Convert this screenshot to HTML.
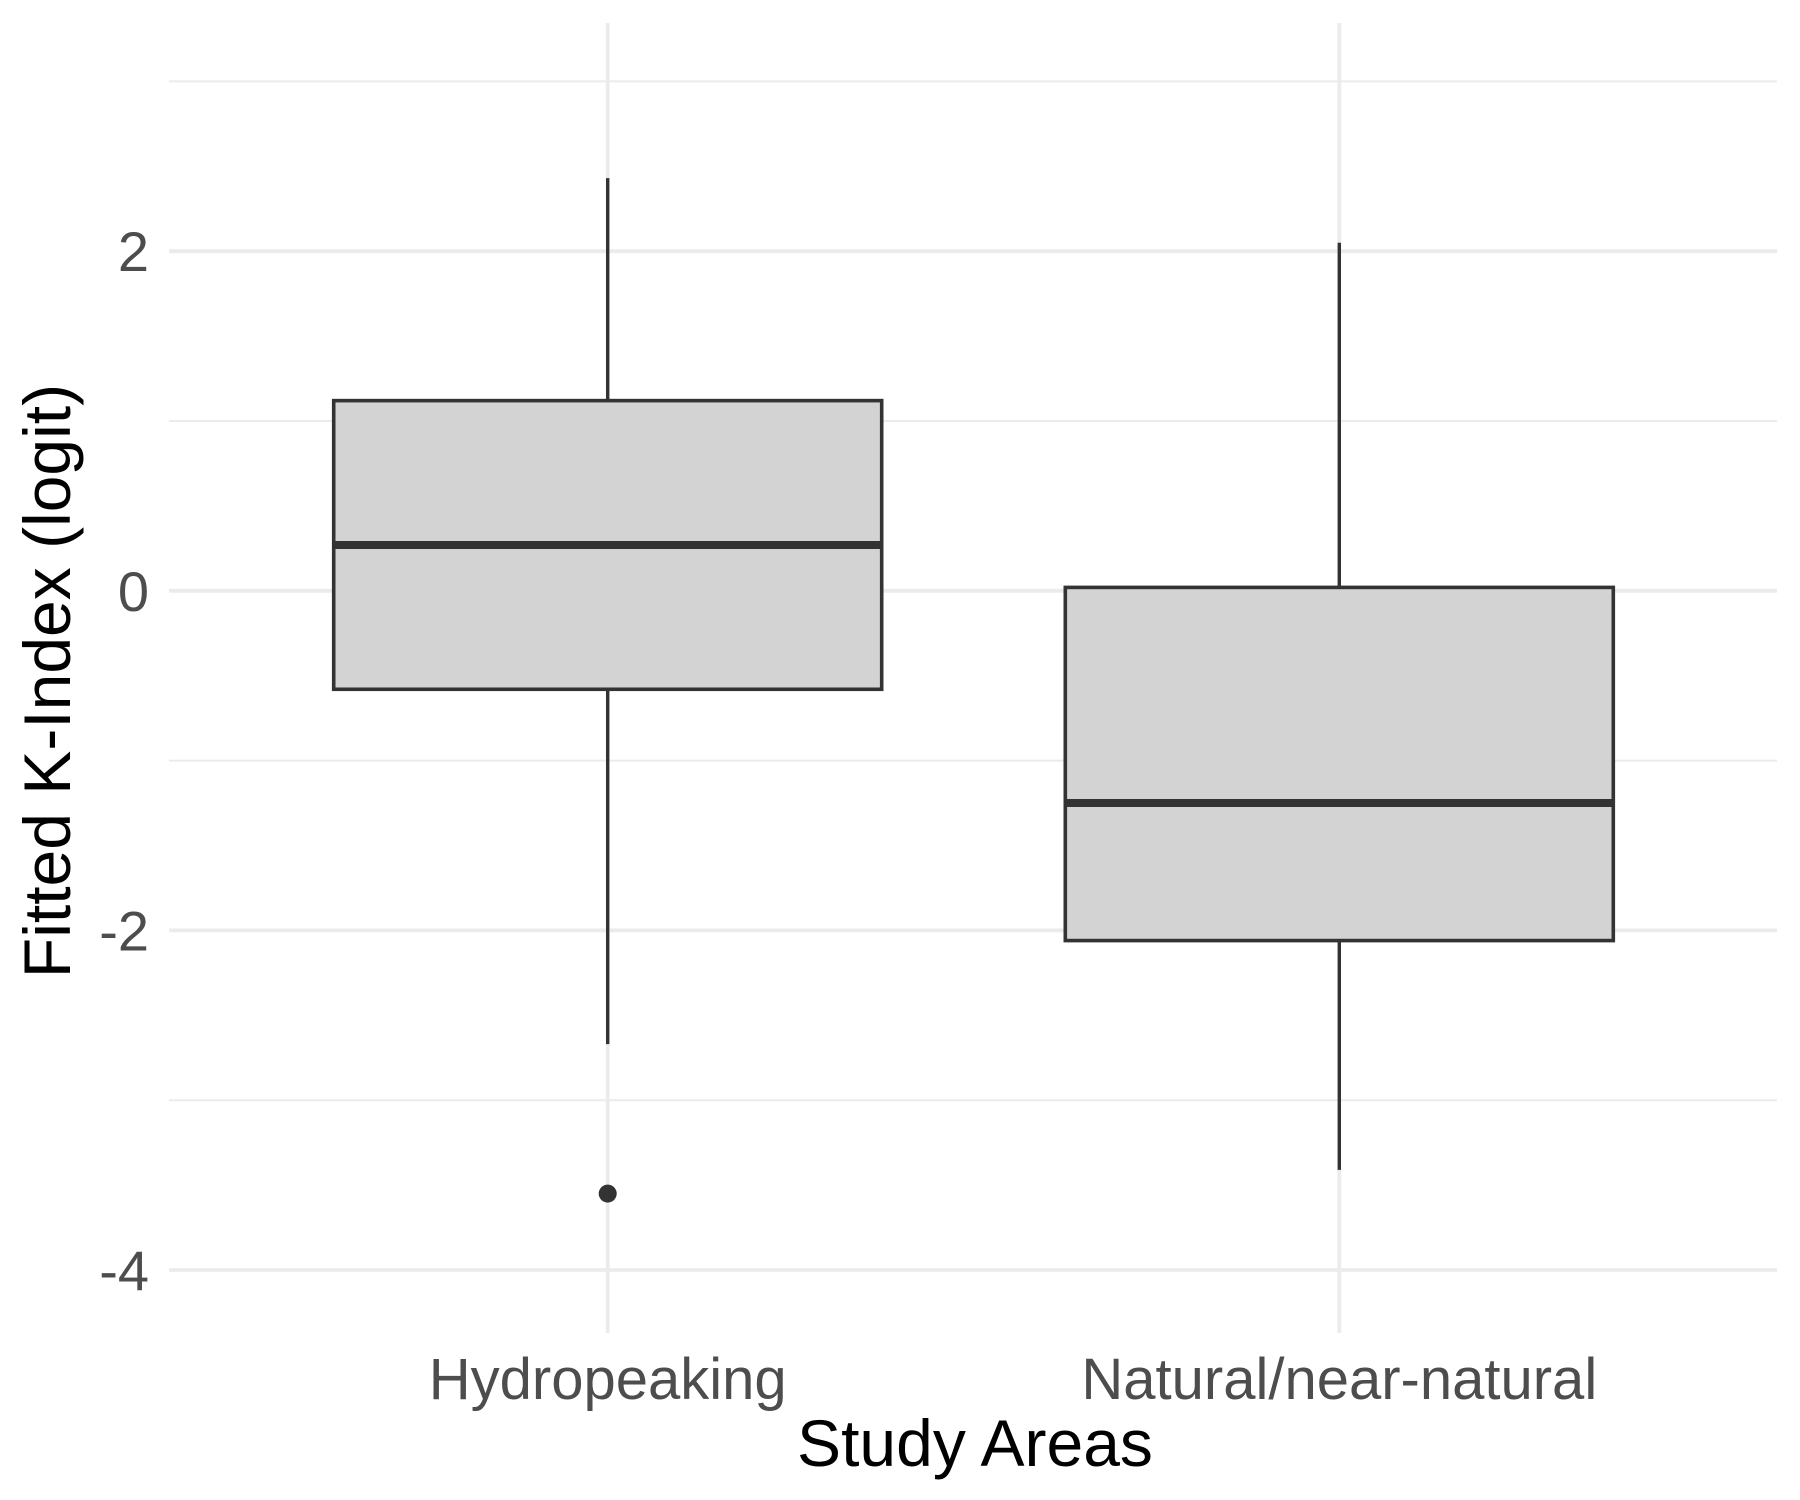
<!DOCTYPE html>
<html><head><meta charset="utf-8"><style>body{margin:0;background:#fff}svg{display:block}</style></head>
<body>
<svg id="chart" width="1800" height="1500" xmlns="http://www.w3.org/2000/svg" font-family="Liberation Sans, sans-serif">
<g id="grid"></g>
<g id="boxes"></g>
<g id="axes"></g>
<text x="975" y="1466" font-size="66" text-anchor="middle" fill="#000">Study Areas</text>
<text transform="translate(70,681) rotate(-90)" font-size="66" text-anchor="middle" fill="#000">Fitted K-Index (logit)</text>
</svg>
<script>
const categories = ["Hydropeaking", "Natural/near-natural"];
const whiskerLow = [-2.67, -3.41];
const q1 = [-0.58, -2.06];
const median = [0.27, -1.25];
const q3 = [1.12, 0.02];
const whiskerHigh = [2.43, 2.05];
const outliers = [[-3.55], []];
const yTicks = [-4, -2, 0, 2];
const yMinor = [-3, -1, 1, 3];

const NS = "http://www.w3.org/2000/svg";
const yScale = v => 590.8 - v * 169.8;
const xScale = i => 607.7 + i * 731.6;
const boxHalf = 274;
const panelL = 169, panelR = 1777, panelT = 23, panelB = 1333;
function mk(tag, attrs, parent){const e=document.createElementNS(NS,tag);for(const k in attrs)e.setAttribute(k,attrs[k]);parent.appendChild(e);return e;}
const grid=document.getElementById('grid'), boxes=document.getElementById('boxes'), axes=document.getElementById('axes');
yMinor.forEach(v=>{const l=mk('line',{x1:panelL,x2:panelR,y1:yScale(v),y2:yScale(v),stroke:'#ebebeb','stroke-width':2},grid);

});
yTicks.forEach(v=>{const l=mk('line',{x1:panelL,x2:panelR,y1:yScale(v),y2:yScale(v),stroke:'#ebebeb','stroke-width':3.8},grid);


const t=mk('text',{x:149,y:yScale(v)+20,'font-size':56,'text-anchor':'end',fill:'#4d4d4d'},axes);t.textContent=v;

});
categories.forEach((c,i)=>{const x=xScale(i);
const g=mk('line',{x1:x,x2:x,y1:panelT,y2:panelB,stroke:'#ebebeb','stroke-width':3.8},grid);


const w1=mk('line',{x1:x,x2:x,y1:yScale(whiskerHigh[i]),y2:yScale(q3[i]),stroke:'#333','stroke-width':3.4},boxes);


const w2=mk('line',{x1:x,x2:x,y1:yScale(q1[i]),y2:yScale(whiskerLow[i]),stroke:'#333','stroke-width':3.4},boxes);


const r=mk('rect',{x:x-boxHalf,y:yScale(q3[i]),width:2*boxHalf,height:yScale(q1[i])-yScale(q3[i]),fill:'#d3d3d3',stroke:'#333','stroke-width':3.6},boxes);


const m=mk('line',{x1:x-boxHalf,x2:x+boxHalf,y1:yScale(median[i]),y2:yScale(median[i]),stroke:'#333','stroke-width':8},boxes);


outliers[i].forEach(o=>{const p=mk('circle',{cx:x,cy:yScale(o),r:9,fill:'#333'},boxes);

});
const t=mk('text',{x:x,y:1399,'font-size':58,'text-anchor':'middle',fill:'#4d4d4d'},axes);t.textContent=c;

});
</script>
</body></html>
